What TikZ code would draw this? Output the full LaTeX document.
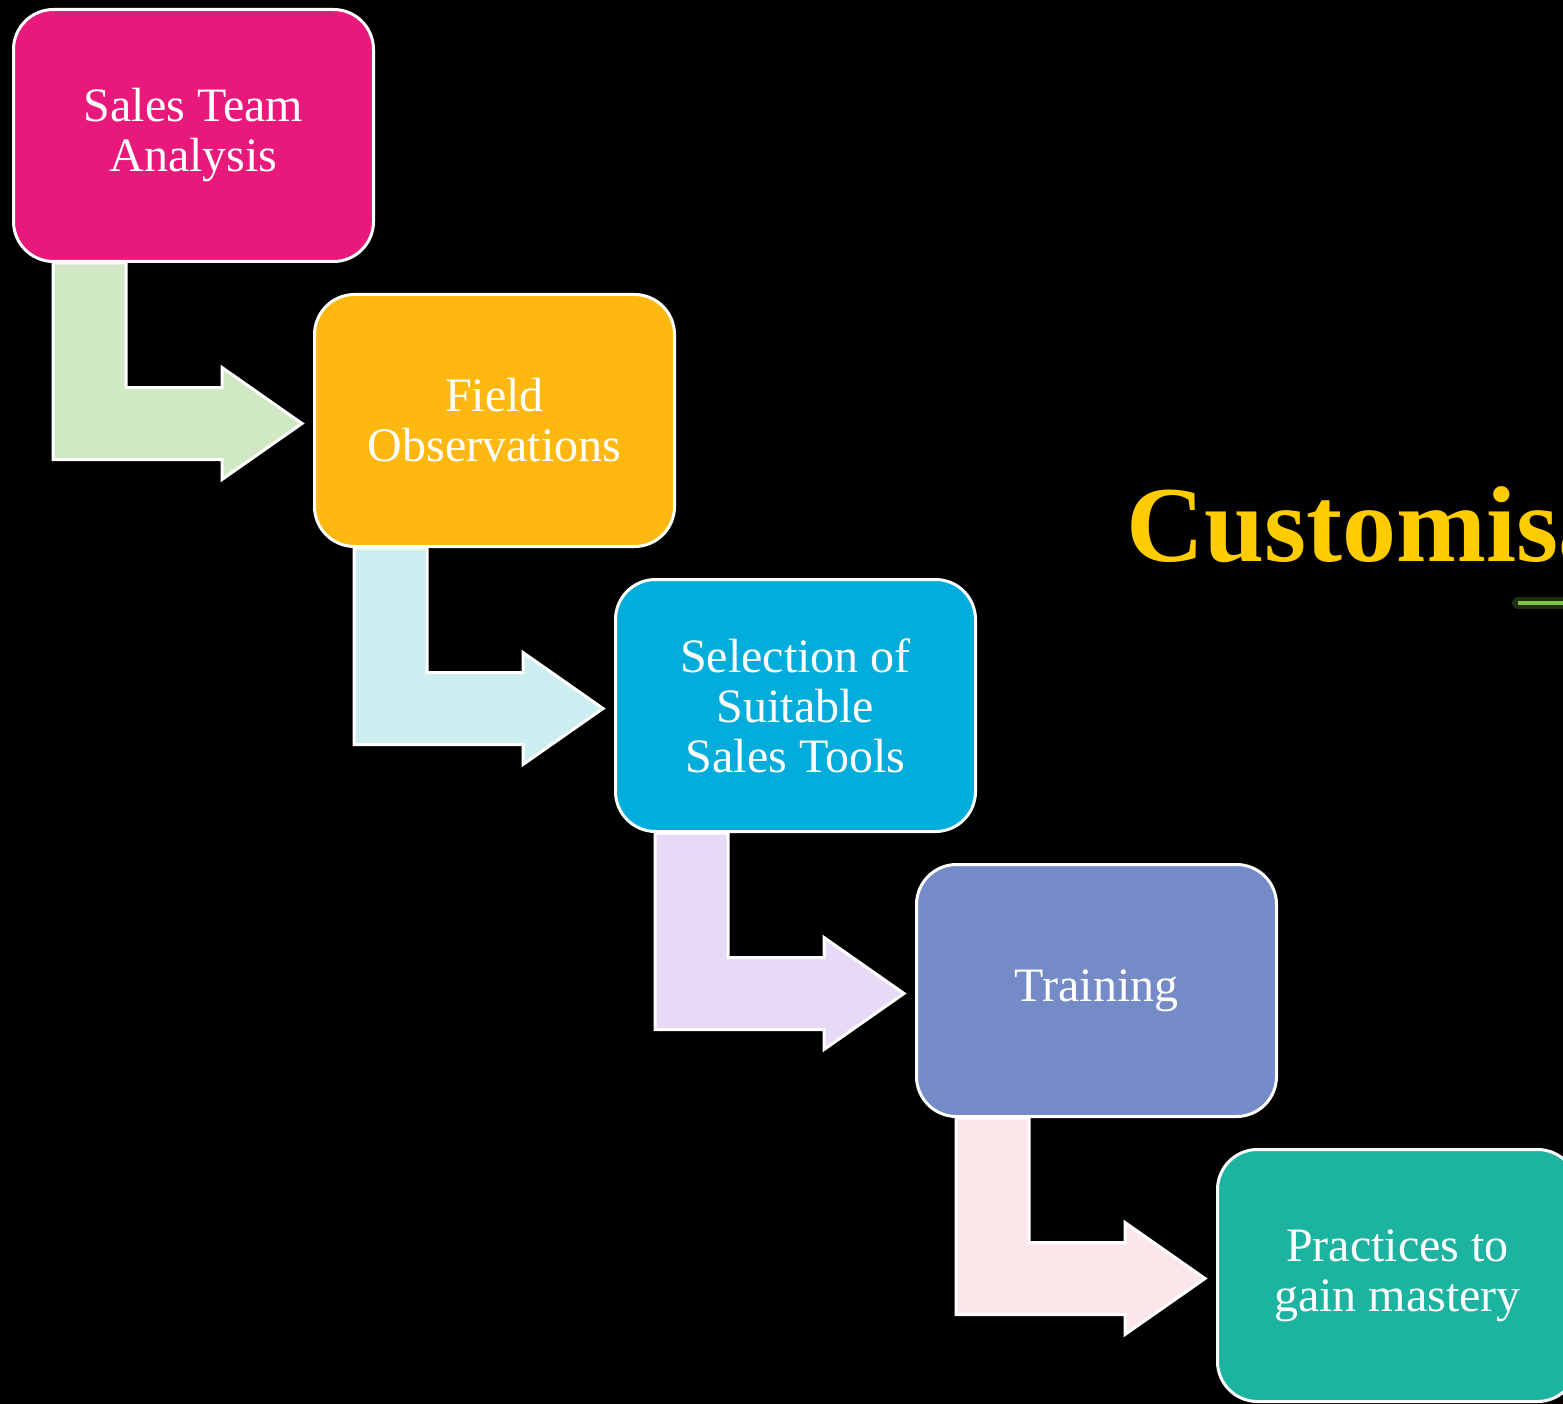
\documentclass[tikz,border=0pt]{standalone}
\usepackage{fontspec}
\setmainfont{Liberation Serif}
\usetikzlibrary{calc}

\definecolor{salespink}{HTML}{E9197B}
\definecolor{fieldamber}{HTML}{FEB810}
\definecolor{toolsblue}{HTML}{02ADDC}
\definecolor{trainblue}{HTML}{748BC8}
\definecolor{practeal}{HTML}{1CB3A0}
\definecolor{arrowgreen}{HTML}{D0E8C4}
\definecolor{arrowcyan}{HTML}{CDEEF0}
\definecolor{arrowlilac}{HTML}{E6DAF7}
\definecolor{arrowrose}{HTML}{FBE6EA}
\definecolor{titlegold}{HTML}{FFCC00}
\definecolor{rulegreen}{HTML}{7CC544}

\pgfdeclarelayer{back}
\pgfsetlayers{back,main}

\tikzset{
  stage/.style={rectangle, rounded corners=40pt, draw=white, line width=3pt,
    minimum width=360pt, minimum height=252pt, align=center, text=white,
    font=\fontsize{48}{50}\selectfont},
  bentarrow/.style={draw=white, line width=3pt, line join=miter},
}

\begin{document}
\begin{tikzpicture}[x=1pt, y=-1pt]
        \useasboundingbox (0,0) rectangle (1563,1404);
        \clip (0,0) rectangle (1563,1404);

        % Nodes
        \node[stage, fill=salespink] (sales) at (193.5,135.5) {Sales Team\\Analysis};
        \node[stage, fill=fieldamber] (field) at (494.5,420.5) {Field\\Observations};
        \node[stage, fill=toolsblue] (tools) at (795.5,705.5) {Selection of\\Suitable\\Sales Tools};
        \node[stage, fill=trainblue] (training) at (1096.5,990.5) {Training};
        \node[stage, fill=practeal] (practice) at (1397.5,1275.5) {Practices to\\gain mastery};

        % Bent arrows, kept under the boxes
        \begin{pgfonlayer}{back}
        \fill[black] (0,0) rectangle (1563,1404);
        \foreach \a/\b/\c in {sales/field/arrowgreen, field/tools/arrowcyan,
                              tools/training/arrowlilac, training/practice/arrowrose} {
            \coordinate (tip) at ($(\b.west)+(-11,3)$);
            \coordinate (top) at ($(\a.south west)+(41,0)$);
            \draw[bentarrow, fill=\c] (top) -- ++(73,0) |- ($(tip)+(-80,-36)$)
                -- ++(0,-20) -- (tip) -- ($(tip)+(-80,56)$) -- ++(0,-20) -| (top) -- cycle;
        }
        \end{pgfonlayer}

        % Title
        \node[anchor=base west, inner sep=0pt, text=titlegold,
              font=\fontsize{108}{120}\selectfont\bfseries] (title) at (1126,561) {Customisation};
        \coordinate (rule) at (1518,603);
        \draw[rulegreen!60!black, line width=12pt, opacity=0.4, line cap=round] (rule) -- ++(120,0);
        \draw[rulegreen, line width=4pt] (rule) -- ++(120,0);
\end{tikzpicture}
\end{document}
